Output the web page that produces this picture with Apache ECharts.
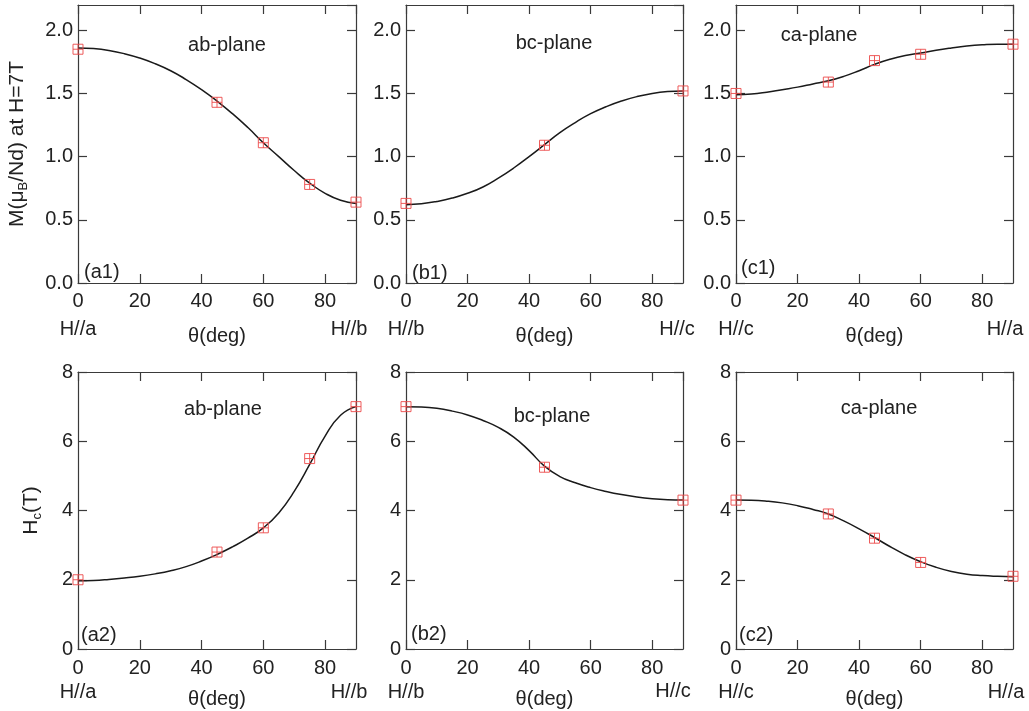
<!DOCTYPE html>
<html>
<head>
<meta charset="utf-8">
<script src="https://cdn.jsdelivr.net/npm/echarts@6/dist/echarts.min.js"></script>
<style>
html,body{margin:0;padding:0;background:#fff;}
#chart{width:1029px;height:711px;}
</style>
</head>
<body>
<div id="chart"></div>
<script>
// ---------- data ----------
const thetaA1 = [0, 45, 60, 75, 90];
const magA1   = [1.85, 1.43, 1.11, 0.78, 0.64];
const thetaB1 = [0, 45, 90];
const magB1   = [0.63, 1.09, 1.52];
const thetaC1 = [0, 30, 45, 60, 90];
const magC1   = [1.50, 1.59, 1.76, 1.81, 1.89];

const thetaA2 = [0, 45, 60, 75, 90];
const hcA2    = [2.0, 2.8, 3.5, 5.5, 7.0];
const thetaB2 = [0, 45, 90];
const hcB2    = [7.0, 5.25, 4.3];
const thetaC2 = [0, 30, 45, 60, 90];
const hcC2    = [4.3, 3.9, 3.2, 2.5, 2.1];

// fitted curves, every 5 degrees
const fitTheta = [0, 5, 10, 15, 20, 25, 30, 35, 40, 45, 50, 55, 60, 65, 70, 75, 80, 85, 90];
const fitA1 = [1.86, 1.855, 1.84, 1.815, 1.78, 1.735, 1.68, 1.61, 1.53, 1.44, 1.34, 1.23, 1.11, 1.0, 0.89, 0.79, 0.71, 0.655, 0.63];
const fitB1 = [0.62, 0.627, 0.645, 0.672, 0.71, 0.76, 0.83, 0.91, 1.0, 1.095, 1.19, 1.27, 1.34, 1.395, 1.44, 1.475, 1.50, 1.515, 1.52];
const fitC1 = [1.49, 1.495, 1.51, 1.53, 1.55, 1.575, 1.60, 1.635, 1.68, 1.73, 1.77, 1.80, 1.82, 1.842, 1.86, 1.875, 1.885, 1.89, 1.89];
const fitA2 = [1.97, 1.98, 2.01, 2.05, 2.10, 2.17, 2.26, 2.38, 2.54, 2.73, 2.95, 3.2, 3.5, 3.93, 4.55, 5.33, 6.15, 6.75, 7.0];
const fitB2 = [7.0, 6.99, 6.95, 6.87, 6.76, 6.6, 6.4, 6.12, 5.73, 5.28, 4.98, 4.8, 4.66, 4.55, 4.46, 4.39, 4.34, 4.31, 4.3];
const fitC2 = [4.3, 4.295, 4.27, 4.22, 4.14, 4.03, 3.9, 3.7, 3.47, 3.22, 2.96, 2.72, 2.52, 2.36, 2.24, 2.16, 2.12, 2.1, 2.09];

const xTicks = { min: 0, max: 90, interval: 20 };
const yTicksTop = { min: 0, max: 2.2, interval: 0.5 };
const yTicksBottom = { min: 0, max: 8, interval: 2 };

const startLabels = ['H//a', 'H//b', 'H//c', 'H//a', 'H//b', 'H//c'];
const endLabels   = ['H//b', 'H//c', 'H//a', 'H//b', 'H//c', 'H//a'];
const planeNames = ['ab-plane', 'bc-plane', 'ca-plane', 'ab-plane', 'bc-plane', 'ca-plane'];
const panelNames = ['(a1)', '(b1)', '(c1)', '(a2)', '(b2)', '(c2)'];

// ---------- layout / style ----------
const FONT = 'Liberation Sans, Arial, Helvetica, sans-serif';
const TXT = '#222';
const AX = '#3a3a3a';
const RED = '#ec4a4a';
const FS = 20;

const cols = [{ left: 78, width: 278 }, { left: 406, width: 277 }, { left: 736, width: 277 }];
const rows = [{ top: 5, height: 278 }, { top: 372, height: 277 }];

const panels = [
  { pts: [thetaA1, magA1], fit: fitA1 },
  { pts: [thetaB1, magB1], fit: fitB1 },
  { pts: [thetaC1, magC1], fit: fitC1 },
  { pts: [thetaA2, hcA2], fit: fitA2 },
  { pts: [thetaB2, hcB2], fit: fitB2 },
  { pts: [thetaC2, hcC2], fit: fitC2 }
];

const grid = [], xAxis = [], yAxis = [], series = [], graphic = [];
const zip = (a, b) => a.map((v, i) => [v, b[i]]);
const lineStyle = { color: AX, width: 1.2 };

panels.forEach((p, i) => {
  const r = Math.floor(i / 3), c = i % 3;
  const col = cols[c], row = rows[r];
  grid.push({ left: col.left, top: row.top, width: col.width, height: row.height,
              show: false, containLabel: false });
  const lh = r === 0 ? 28 : 24;
  xAxis.push({
    gridIndex: i, type: 'value', position: 'bottom', ...xTicks,
    axisLine: { show: true, onZero: false, lineStyle },
    axisTick: { show: true, inside: true, length: 9, lineStyle },
    splitLine: { show: false },
    axisLabel: {
      show: true, fontSize: FS, fontFamily: FONT, color: TXT, lineHeight: lh,
      margin: r === 0 ? 4 : 7, showMaxLabel: false,
      formatter: v => v === 0 ? '0\n' + startLabels[i] : String(v)
    },
    name: 'θ(deg)', nameLocation: 'middle', nameGap: r === 0 ? 43 : 40,
    nameMoveOverlap: false,
    nameTextStyle: { fontSize: FS, fontFamily: FONT, color: TXT }
  });
  xAxis.push({
    gridIndex: i, type: 'value', position: 'top', ...xTicks,
    axisLine: { show: true, onZero: false, lineStyle },
    axisTick: { show: true, inside: true, length: 9, lineStyle },
    splitLine: { show: false }, axisLabel: { show: false }
  });
  const yt = r === 0 ? yTicksTop : yTicksBottom;
  const yl = {
    gridIndex: i, type: 'value', position: 'left', ...yt,
    axisLine: { show: true, onZero: false, lineStyle },
    axisTick: { show: true, inside: true, length: 9, lineStyle },
    splitLine: { show: false },
    axisLabel: {
      show: true, fontSize: FS, fontFamily: FONT, color: TXT, margin: 5,
      showMaxLabel: r !== 0,
      formatter: v => r === 0 ? v.toFixed(1) : String(v)
    }
  };
  if (c === 0) {
    if (r === 0) {
      yl.name = 'M(μ{s|B}/Nd) at H=7T';
      yl.nameGap = 48;
    } else {
      yl.name = 'H{s|c}(T)';
      yl.nameGap = 34;
    }
    yl.nameLocation = 'middle';
    yl.nameRotate = 90;
    yl.nameMoveOverlap = false;
    yl.nameTextStyle = { fontSize: 21, fontFamily: FONT, color: TXT,
      rich: { s: { fontSize: 13, fontFamily: FONT, color: TXT, padding: [12, 0, 0, 0] } } };
  }
  yAxis.push(yl);
  yAxis.push({
    gridIndex: i, type: 'value', position: 'right', ...yt,
    axisLine: { show: true, onZero: false, lineStyle },
    axisTick: { show: true, inside: true, length: 9, lineStyle },
    splitLine: { show: false }, axisLabel: { show: false }
  });

  series.push({
    type: 'line', xAxisIndex: 2 * i, yAxisIndex: 2 * i,
    data: zip(fitTheta, p.fit), smooth: 0.5, showSymbol: false, symbol: 'none',
    lineStyle: { color: '#1a1a1a', width: 1.5 }, z: 2, silent: true, animation: false
  });
  series.push({
    type: 'scatter', xAxisIndex: 2 * i, yAxisIndex: 2 * i,
    data: zip(p.pts[0], p.pts[1]),
    symbol: 'path://M0 0H10V10H0Z M5 0V10 M0 5H10', symbolSize: 10,
    itemStyle: { color: 'rgba(0,0,0,0)', borderColor: RED, borderWidth: 1, opacity: 0.9 },
    z: 3, silent: true, animation: false
  });
});

const planePos = [[227, 45], [554, 43], [819, 35], [223, 409], [552, 416], [879, 408]];
const panelPos = [[84, 272], [412, 273], [741, 268], [81, 635], [411, 634], [739, 635]];
const endPos = [[349, 329], [677, 329], [1005, 329], [349, 692], [673, 691], [1006, 692]];
planeNames.forEach((t, i) => {
  graphic.push({ type: 'text', x: planePos[i][0], y: planePos[i][1], silent: true,
    style: { text: t, font: FS + 'px ' + FONT, fill: TXT, align: 'center', verticalAlign: 'middle' } });
});
panelNames.forEach((t, i) => {
  graphic.push({ type: 'text', x: panelPos[i][0], y: panelPos[i][1], silent: true,
    style: { text: t, font: FS + 'px ' + FONT, fill: TXT, align: 'left', verticalAlign: 'middle' } });
});
endLabels.forEach((t, i) => {
  graphic.push({ type: 'text', x: endPos[i][0], y: endPos[i][1], silent: true,
    style: { text: t, font: FS + 'px ' + FONT, fill: TXT, align: 'center', verticalAlign: 'middle' } });
});

const chart = echarts.init(document.getElementById('chart'), null, { renderer: 'canvas' });
chart.setOption({
  backgroundColor: '#fff',
  animation: false,
  grid, xAxis, yAxis, series, graphic
});
</script>
</body>
</html>
